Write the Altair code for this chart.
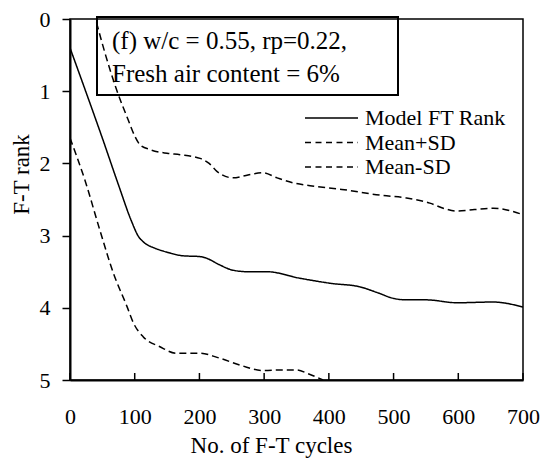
import altair as alt
import pandas as pd

# F-T rank against number of freeze-thaw cycles
# (w/c = 0.55, rp = 0.22, fresh air content 6%)
series_names = ["Model FT Rank", "Mean+SD", "Mean-SD"]

model_cycles = [0, 25, 50, 75, 95, 105, 115, 130, 150, 175, 200, 210, 230, 252, 275,
                304, 355, 402, 448, 475, 500, 520, 550, 598, 654, 700]
model_rank = [0.40, 1.02, 1.65, 2.30, 2.80, 3.00, 3.10, 3.17, 3.23, 3.28, 3.29, 3.31,
              3.40, 3.48, 3.50, 3.50, 3.59, 3.66, 3.71, 3.79, 3.87, 3.89, 3.89, 3.93,
              3.92, 3.99]

upper_cycles = [41, 55, 72, 90, 100, 108, 124, 150, 170, 201, 215, 227, 252, 275, 298,
                320, 345, 371, 420, 479, 520, 556, 580, 598, 625, 654, 700]
upper_rank = [0.05, 0.50, 0.98, 1.40, 1.62, 1.74, 1.81, 1.86, 1.88, 1.93, 2.00, 2.11,
              2.20, 2.16, 2.13, 2.20, 2.27, 2.31, 2.36, 2.44, 2.48, 2.55, 2.63, 2.66,
              2.64, 2.62, 2.71]

lower_cycles = [0, 23, 46, 67, 88, 98, 113, 139, 165, 201, 232, 265, 298, 330, 350,
                370, 391]
lower_rank = [1.65, 2.23, 2.92, 3.52, 3.98, 4.21, 4.40, 4.54, 4.63, 4.63, 4.70, 4.80,
              4.87, 4.86, 4.86, 4.92, 5.00]

x_ticks = [0, 100, 200, 300, 400, 500, 600, 700]
y_ticks = [0, 1, 2, 3, 4, 5]

note_lines = ["(f) w/c = 0.55, rp=0.22,", "Fresh air content = 6%"]

FONT = "Liberation Serif"
W, H = 453, 361

frames = []
for name, xs, ys in [(series_names[0], model_cycles, model_rank),
                     (series_names[1], upper_cycles, upper_rank),
                     (series_names[2], lower_cycles, lower_rank)]:
    frames.append(pd.DataFrame({"series": name, "cycles": xs, "rank": ys}))
curves = pd.concat(frames, ignore_index=True)

dash_range = [[1, 0], [7, 4], [7, 4]]

x_scale = alt.Scale(domain=[0, 700], nice=False, zero=False)
y_scale = alt.Scale(domain=[0, 5], reverse=True, nice=False)

lines = alt.Chart(curves).mark_line(
    color="black", strokeWidth=1.5, interpolate="monotone", clip=True
).encode(
    x=alt.X("cycles:Q", scale=x_scale, axis=alt.Axis(
        title="No. of F-T cycles", values=x_ticks, ticks=False, tickSize=0,
        labelPadding=26, labelFont=FONT, labelFontSize=22, labelColor="black",
        labelFlush=False, labelAngle=0,
        titleFont=FONT, titleFontSize=23, titleFontWeight="normal", titleColor="black",
        titleX=201, titleY=72, titleAlign="center", titleBaseline="alphabetic",
        domainColor="black", domainWidth=2, grid=False)),
    y=alt.Y("rank:Q", scale=y_scale, axis=alt.Axis(
        title="F-T rank", values=y_ticks, tickSize=8, tickWidth=1.5, tickColor="black",
        labelPadding=12, labelFont=FONT, labelFontSize=22, labelColor="black",
        titleFont=FONT, titleFontSize=23, titleFontWeight="normal", titleColor="black",
        titleAngle=270, titleX=-42, titleY=155, titleAlign="center",
        titleBaseline="alphabetic",
        domainColor="black", domainWidth=2, grid=False)),
    strokeDash=alt.StrokeDash("series:N", scale=alt.Scale(domain=series_names,
                                                          range=dash_range), legend=None),
    detail="series:N",
)

# inward tick marks along the x axis
xticks = alt.Chart(pd.DataFrame({"cycles": x_ticks})).mark_rule(
    color="black", strokeWidth=1.5
).encode(x=alt.X("cycles:Q", scale=x_scale), y=alt.value(H), y2=alt.value(H - 7))

one = pd.DataFrame({"k": [0]})

# framed note in the upper left
note_box = alt.Chart(one).mark_rect(
    fillOpacity=0, stroke="black", strokeWidth=2
).encode(x=alt.value(27), x2=alt.value(328), y=alt.value(-2), y2=alt.value(76))

layers = [note_box, lines, xticks]
for i, txt in enumerate(note_lines):
    layers.append(alt.Chart(one).mark_text(
        text=txt, font=FONT, fontSize=25, color="black", align="left",
        baseline="alphabetic"
    ).encode(x=alt.value(42), y=alt.value(30 + 33 * i)))

# legend drawn as line samples with labels
for i, name in enumerate(series_names):
    yy = 99 + 24.5 * i
    layers.append(alt.Chart(one).mark_rule(
        color="black", strokeWidth=1.5, strokeDash=[6, 4.5] if i else [1, 0]
    ).encode(x=alt.value(235), x2=alt.value(288), y=alt.value(yy)))
    layers.append(alt.Chart(one).mark_text(
        text=name, font=FONT, fontSize=22, color="black", align="left",
        baseline="middle"
    ).encode(x=alt.value(295), y=alt.value(yy)))

chart = alt.layer(*layers).properties(
    width=W, height=H,
    autosize=alt.AutoSizeParams(type="none"),
    padding={"left": 70, "top": 19, "right": 26, "bottom": 80},
    background="white",
).configure_view(stroke="black", strokeWidth=1.5)

chart.save("out.html", embed_options={"renderer": "svg", "actions": False})
